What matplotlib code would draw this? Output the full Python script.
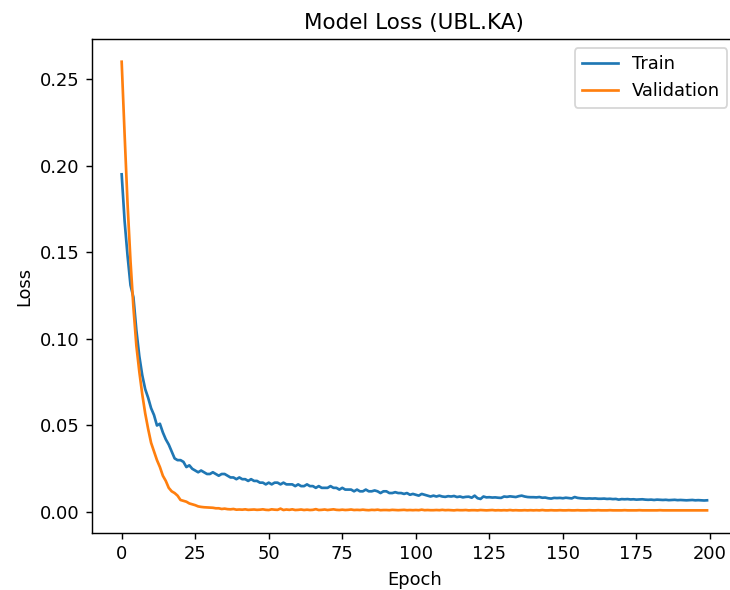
import matplotlib
matplotlib.use("Agg")
import matplotlib.pyplot as plt
import numpy as np

train_loss = [
    0.195, 0.168, 0.148, 0.131, 0.124, 0.105, 0.090, 0.079, 0.071, 0.066,
    0.060, 0.056, 0.050, 0.051, 0.046, 0.042, 0.039, 0.035, 0.031, 0.030,
    0.030, 0.029, 0.026, 0.027, 0.025, 0.024, 0.023, 0.024, 0.023, 0.022,
    0.022, 0.023, 0.022, 0.021, 0.022, 0.022, 0.021, 0.020, 0.020, 0.019,
    0.020, 0.019, 0.019, 0.018, 0.019, 0.018, 0.018, 0.017, 0.017, 0.016,
    0.017, 0.016, 0.017, 0.017, 0.016, 0.017, 0.016, 0.016, 0.016, 0.015,
    0.016, 0.015, 0.015, 0.016, 0.015, 0.015, 0.014, 0.015, 0.014, 0.014,
    0.014, 0.015, 0.014, 0.014, 0.013, 0.014, 0.013, 0.013, 0.013, 0.012,
    0.013, 0.012, 0.012, 0.013, 0.012, 0.012, 0.0125, 0.012, 0.011, 0.012,
    0.012, 0.011, 0.011, 0.0115, 0.011, 0.011, 0.0105, 0.011, 0.010, 0.0105,
    0.010, 0.0095, 0.0105, 0.010, 0.0095, 0.0090, 0.0095, 0.0090, 0.0095, 0.0090,
    0.0088, 0.0092, 0.0090, 0.0093, 0.0087, 0.0090, 0.0085, 0.0088, 0.0089, 0.0083,
    0.0095, 0.0080, 0.0076, 0.0090, 0.0085, 0.0086, 0.0084, 0.0085, 0.0083, 0.0082,
    0.0090, 0.0088, 0.0091, 0.0089, 0.0087, 0.0092, 0.0095, 0.0090, 0.0087, 0.0086,
    0.0086, 0.0085, 0.0087, 0.0083, 0.0084, 0.0080, 0.0078, 0.0082, 0.0081, 0.0082,
    0.0080, 0.0083, 0.0081, 0.0079, 0.0087, 0.0082, 0.0080, 0.0079, 0.0078, 0.0079,
    0.0078, 0.0079, 0.0077, 0.0077, 0.0078, 0.0076, 0.0077, 0.0075, 0.0076, 0.0072,
    0.0075, 0.0074, 0.0075, 0.0073, 0.0074, 0.0072, 0.0073, 0.0074, 0.0072, 0.0071,
    0.0072, 0.0070, 0.0072, 0.0071, 0.0070, 0.0071, 0.0069, 0.0070, 0.0071, 0.0069,
    0.0070, 0.0069, 0.0068, 0.0069, 0.0070, 0.0068, 0.0069, 0.0068, 0.0067, 0.0068,
]

val_loss = [
    0.260, 0.218, 0.178, 0.145, 0.118, 0.096, 0.081, 0.068, 0.057, 0.048,
    0.040, 0.035, 0.030, 0.026, 0.021, 0.018, 0.014, 0.012, 0.011, 0.0095,
    0.0070, 0.0065, 0.0060, 0.0050, 0.0045, 0.0040, 0.0033, 0.0030, 0.0028, 0.0027,
    0.0026, 0.0025, 0.0022, 0.0022, 0.0018, 0.0020, 0.0017, 0.0016, 0.0018, 0.0014,
    0.0015, 0.0014, 0.0016, 0.0013, 0.0014, 0.0015, 0.0013, 0.0014, 0.0016, 0.0013,
    0.0012, 0.0016, 0.0014, 0.0013, 0.0020, 0.0012, 0.0015, 0.0013, 0.0016, 0.0012,
    0.0013, 0.0015, 0.0012, 0.0014, 0.0012, 0.0013, 0.0017, 0.0012, 0.0013, 0.0015,
    0.0012, 0.0014, 0.0016, 0.0013, 0.0012, 0.0014, 0.0012, 0.0013, 0.0015, 0.0012,
    0.0013, 0.0012, 0.0014, 0.0012, 0.0011, 0.0013, 0.0012, 0.0014, 0.0011, 0.0012,
    0.0012, 0.0011, 0.0013, 0.0012, 0.0011, 0.0012, 0.0013, 0.0011, 0.0012, 0.0011,
    0.0012, 0.0011, 0.0014, 0.0011, 0.0012, 0.0011, 0.0011, 0.0012, 0.0011, 0.0013,
    0.0011, 0.0012, 0.0011, 0.0010, 0.0012, 0.0011, 0.0011, 0.0012, 0.0010, 0.0011,
    0.0011, 0.0010, 0.0012, 0.0011, 0.0010, 0.0011, 0.0012, 0.0010, 0.0011, 0.0010,
    0.0011, 0.0010, 0.0012, 0.0010, 0.0011, 0.0010, 0.0010, 0.0011, 0.0010, 0.0011,
    0.0010, 0.0011, 0.0010, 0.0012, 0.0010, 0.0010, 0.0011, 0.0010, 0.0010, 0.0011,
    0.0010, 0.0010, 0.0011, 0.0010, 0.0010, 0.0011, 0.0010, 0.0010, 0.0010, 0.0011,
    0.0010, 0.0010, 0.0011, 0.0010, 0.0010, 0.0010, 0.0011, 0.0010, 0.0010, 0.0010,
    0.0010, 0.0011, 0.0010, 0.0010, 0.0010, 0.0010, 0.0011, 0.0010, 0.0010, 0.0010,
    0.0010, 0.0010, 0.0010, 0.0011, 0.0010, 0.0010, 0.0010, 0.0010, 0.0010, 0.0010,
    0.0010, 0.0010, 0.0010, 0.0010, 0.0010, 0.0010, 0.0010, 0.0010, 0.0010, 0.0010,
]

epochs = np.arange(len(train_loss))

DPI = 129
fig = plt.figure(figsize=(730 / DPI, 590 / DPI), dpi=DPI)
ax = fig.add_axes([92.4 / 730, 57.2 / 590, 643.9 / 730, 493.5 / 590])
ax.plot(epochs, train_loss, label="Train")
ax.plot(epochs, val_loss, label="Validation")
ax.set_title("Model Loss (UBL.KA)")
ax.set_xlabel("Epoch")
ax.set_ylabel("Loss")
ax.legend(loc="upper right")
fig.savefig("out.png", dpi=DPI)
